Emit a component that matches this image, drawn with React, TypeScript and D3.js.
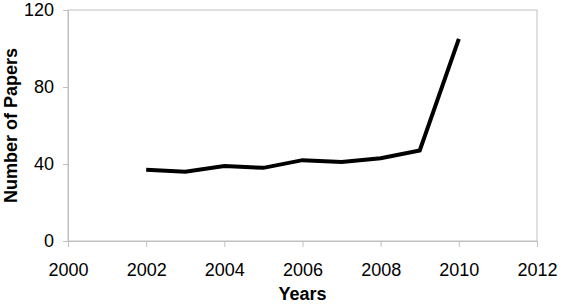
import * as d3 from "d3";
import { useRef, useEffect } from "react";

const years = [2002, 2003, 2004, 2005, 2006, 2007, 2008, 2009, 2010];
const papers = [37, 36, 39, 38, 42, 41, 43, 47, 105];
const xTicks = [2000, 2002, 2004, 2006, 2008, 2010, 2012];
const yTicks = [0, 40, 80, 120];

export default function App() {
  const width = 561;
  const height = 304;
  const marginTop = 10;
  const marginRight = 24;
  const marginBottom = 63;
  const marginLeft = 68;

  const ref = useRef(null);
  useEffect((): void => {
    if (!ref.current) return;
    const svg = d3.select(ref.current);
    svg.selectAll("*").remove();

    const x = d3.scaleLinear([2000, 2012], [marginLeft, width - marginRight]);
    const y = d3.scaleLinear([0, 120], [height - marginBottom, marginTop]);
    const font = "Liberation Sans, Arial, sans-serif";
    const grey = "#c0c0c0";

    // plot area border
    svg
      .append("rect")
      .attr("x", x(2000))
      .attr("y", y(120))
      .attr("width", x(2012) - x(2000))
      .attr("height", y(0) - y(120))
      .attr("fill", "none")
      .attr("stroke", grey)
      .attr("stroke-width", 1);

    svg
      .append("g")
      .attr("transform", `translate(0,${y(0)})`)
      .call(d3.axisBottom(x).tickValues(xTicks).tickFormat(d3.format("d")).tickSize(6).tickPadding(16))
      .call((g) => g.select(".domain").attr("stroke", grey))
      .call((g) => g.selectAll(".tick line").attr("stroke", grey))
      .call((g) => g.selectAll("text").attr("font-family", font).attr("font-size", 18).attr("fill", "#000"));

    svg
      .append("g")
      .attr("transform", `translate(${x(2000)},0)`)
      .call(d3.axisLeft(y).tickValues(yTicks).tickSize(5).tickPadding(9))
      .call((g) => g.select(".domain").attr("stroke", grey))
      .call((g) => g.selectAll(".tick line").attr("stroke", grey))
      .call((g) => g.selectAll("text").attr("font-family", font).attr("font-size", 18).attr("fill", "#000"));

    const line = d3
      .line<number>()
      .x((_, i) => x(years[i]))
      .y((d) => y(d));

    svg
      .append("path")
      .datum(papers)
      .attr("fill", "none")
      .attr("stroke", "#000")
      .attr("stroke-width", 4)
      .attr("stroke-linejoin", "miter")
      .attr("d", line);

    svg
      .append("text")
      .attr("x", (x(2000) + x(2012)) / 2)
      .attr("y", 300)
      .attr("text-anchor", "middle")
      .attr("font-family", font)
      .attr("font-size", 18)
      .attr("font-weight", "bold")
      .text("Years");

    svg
      .append("text")
      .attr("transform", `translate(17,${(y(0) + y(120)) / 2}) rotate(-90)`)
      .attr("text-anchor", "middle")
      .attr("font-family", font)
      .attr("font-size", 18)
      .attr("font-weight", "bold")
      .text("Number of Papers");
  }, []);

  return (
    <svg
      ref={ref}
      width={width}
      height={height}
      style={{ position: "absolute", left: 0, top: 0, background: "#fff" }}
    />
  );
}
